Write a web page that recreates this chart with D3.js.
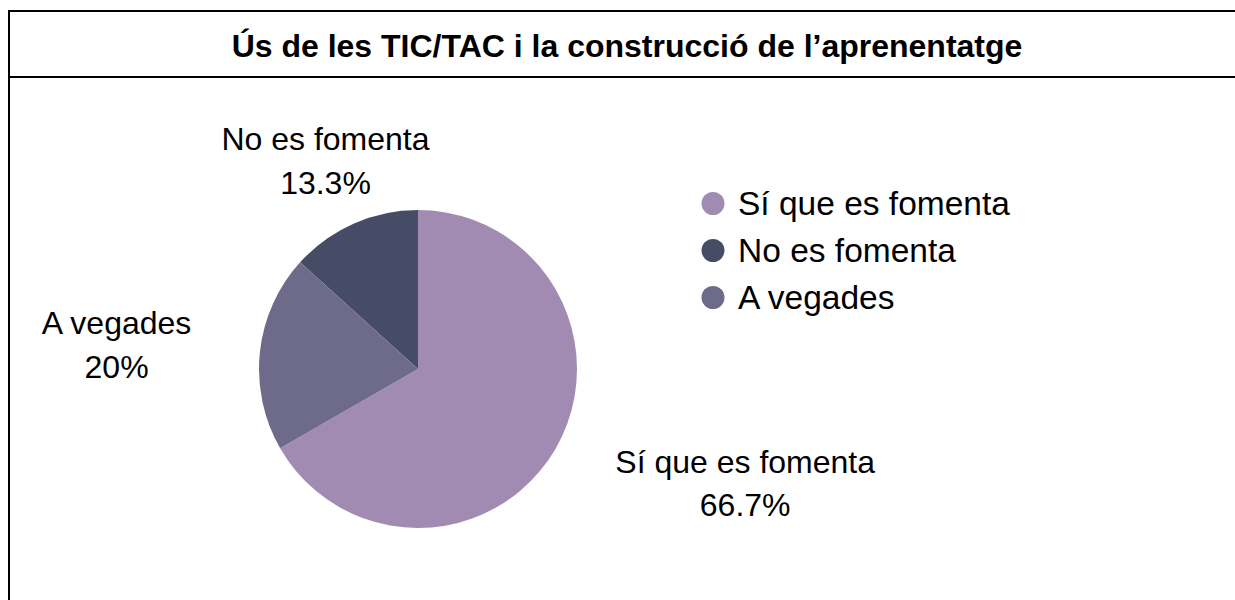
<!DOCTYPE html>
<html>
<head>
<meta charset="utf-8">
<script src="https://cdn.jsdelivr.net/npm/d3@7"></script>
<style>
  html, body { margin: 0; padding: 0; background: #fff; }
  svg { display: block; }
</style>
</head>
<body>
<svg id="chart" width="1235" height="600"></svg>
<script>
const titleText = "Ús de les TIC/TAC i la construcció de l’aprenentatge";
const categories = ["Sí que es fomenta", "No es fomenta", "A vegades"];
const values = [66.7, 13.3, 20];
const percentLabels = ["66.7%", "13.3%", "20%"];
const colors = ["#a28bb2", "#464b66", "#6e6a8a"];

const W = 1235, H = 600;
const svg = d3.select("#chart");
const font = "'Liberation Sans', Arial, sans-serif";

// frame
svg.append("rect").attr("x", 9).attr("y", 11).attr("width", 1260).attr("height", 640)
  .attr("fill", "none").attr("stroke", "#000").attr("stroke-width", 2);
svg.append("line").attr("x1", 9).attr("x2", W + 10).attr("y1", 77).attr("y2", 77)
  .attr("stroke", "#000").attr("stroke-width", 2);

svg.append("text").attr("x", 627).attr("y", 57)
  .attr("text-anchor", "middle").attr("font-family", font)
  .attr("font-weight", "bold").attr("font-size", 32).attr("fill", "#000")
  .text(titleText);

const cx = 418, cy = 369, R = 159;
const color = d3.scaleOrdinal().domain(categories).range(colors);

const pie = d3.pie().value(d => d.value); // default: descending by value
const data = categories.map((c, i) => ({ name: c, value: values[i], label: percentLabels[i] }));
const arcs = pie(data);
const arc = d3.arc().innerRadius(0).outerRadius(R);
const labelArc = d3.arc().innerRadius(228).outerRadius(228);

const g = svg.append("g").attr("transform", `translate(${cx},${cy})`);
g.selectAll("path").data(arcs).join("path")
  .attr("d", arc).attr("fill", d => color(d.data.name));

const fs = 32, lh = 43.5;
arcs.forEach(a => {
  const mid = (a.startAngle + a.endAngle) / 2;
  const s = Math.sin(mid);
  const [px, py] = labelArc.centroid(a);
  const t = g.append("text").attr("font-family", font).attr("font-size", fs)
    .attr("fill", "#000").attr("text-anchor", "middle");
  const t1 = t.append("tspan").text(a.data.name);
  const t2 = t.append("tspan").text(a.data.label);
  const w = Math.max(t1.node().getComputedTextLength(), t2.node().getComputedTextLength());
  let bx = px;
  if (s > 0.5) bx = px + w / 2;
  else if (s < -0.5) bx = px - w / 2;
  const blockH = lh + fs * 0.716;
  const y1 = py - blockH / 2 + fs * 0.716;
  t1.attr("x", bx).attr("y", y1);
  t2.attr("x", bx).attr("y", y1 + lh);
});

// legend
const legend = svg.append("g");
const items = legend.selectAll("g").data(categories).join("g")
  .attr("transform", (d, i) => `translate(713,${203.5 + i * 47})`);
items.append("circle").attr("r", 11.5).attr("fill", d => color(d));
items.append("text").attr("x", 25).attr("y", 11.5)
  .attr("font-family", font).attr("font-size", 33.5).attr("fill", "#000")
  .text(d => d);
</script>
</body>
</html>
